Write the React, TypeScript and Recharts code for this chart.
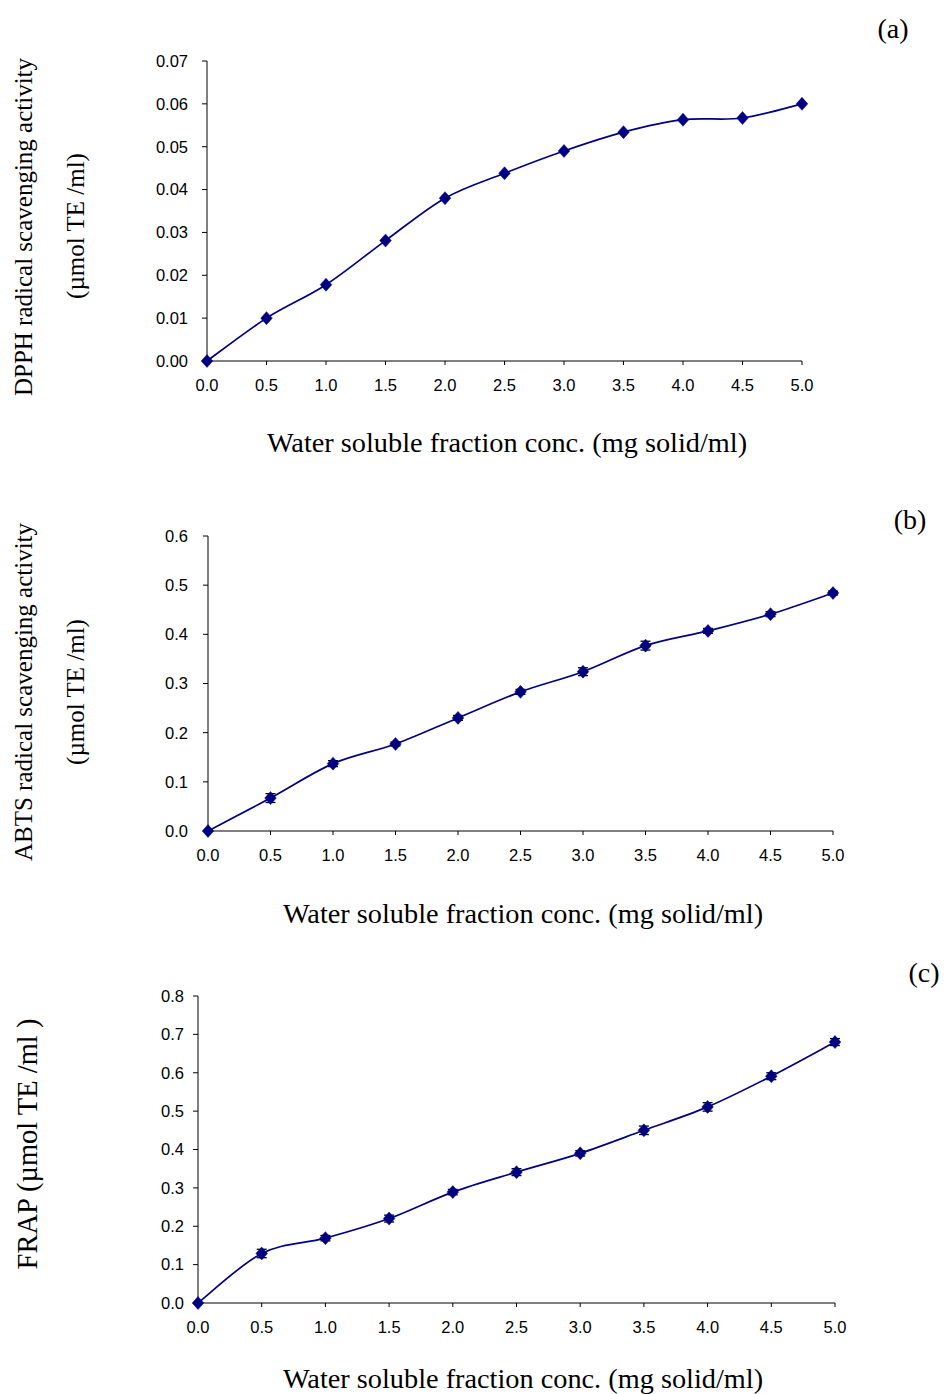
import React from 'react';
import { LineChart, Line, XAxis, YAxis, ErrorBar } from 'recharts';

// Water soluble fraction concentration (mg solid/ml)
const concentrations = [0, 0.5, 1.0, 1.5, 2.0, 2.5, 3.0, 3.5, 4.0, 4.5, 5.0];

// (a) DPPH radical scavenging activity (µmol TE/ml)
const dpphActivity = [0, 0.01, 0.0178, 0.0281, 0.038, 0.0438, 0.049, 0.0534, 0.0563, 0.0567, 0.06];

// (b) ABTS radical scavenging activity (µmol TE/ml) with standard deviations
const abtsActivity = [0, 0.067, 0.137, 0.177, 0.23, 0.283, 0.324, 0.377, 0.407, 0.441, 0.484];
const abtsError = [0, 0.009, 0.006, 0.004, 0.005, 0.005, 0.008, 0.009, 0.005, 0.005, 0.004];

// (c) FRAP (µmol TE/ml) with standard deviations
const frapActivity = [0, 0.129, 0.169, 0.22, 0.289, 0.341, 0.39, 0.45, 0.511, 0.591, 0.68];
const frapError = [0, 0.011, 0.007, 0.009, 0.007, 0.009, 0.007, 0.011, 0.011, 0.009, 0.009];

// Axis ticks
const xTicks = [0, 0.5, 1.0, 1.5, 2.0, 2.5, 3.0, 3.5, 4.0, 4.5, 5.0];
const dpphTicks = [0, 0.01, 0.02, 0.03, 0.04, 0.05, 0.06, 0.07];
const abtsTicks = [0, 0.1, 0.2, 0.3, 0.4, 0.5, 0.6];
const frapTicks = [0, 0.1, 0.2, 0.3, 0.4, 0.5, 0.6, 0.7, 0.8];

const SANS = 'Liberation Sans, Arial, sans-serif';
const SERIF = 'Liberation Serif, Times New Roman, serif';
const NAVY = '#000080';

// Spreadsheet-style smoothed line: cubic Bezier segments through every point
function smoothCurve(context: any) {
  let pts: [number, number][] = [];
  return {
    areaStart() {},
    areaEnd() {},
    lineStart() {
      pts = [];
    },
    point(x: number, y: number) {
      pts.push([+x, +y]);
    },
    lineEnd() {
      const n = pts.length;
      if (!n) return;
      context.moveTo(pts[0][0], pts[0][1]);
      for (let i = 0; i < n - 1; i++) {
        const p0 = pts[Math.max(i - 1, 0)];
        const p1 = pts[i];
        const p2 = pts[i + 1];
        const p3 = pts[Math.min(i + 2, n - 1)];
        context.bezierCurveTo(
          p1[0] + (p2[0] - p0[0]) / 6,
          p1[1] + (p2[1] - p0[1]) / 6,
          p2[0] - (p3[0] - p1[0]) / 6,
          p2[1] - (p3[1] - p1[1]) / 6,
          p2[0],
          p2[1]
        );
      }
    },
  };
}

const renderDiamond = (props: any) => {
  const { cx, cy, index } = props;
  if (cx == null || cy == null) return <g key={index} />;
  return (
    <path
      key={index}
      d={`M${cx},${cy - 6.5}L${cx + 5.8},${cy}L${cx},${cy + 6.5}L${cx - 5.8},${cy}Z`}
      fill={NAVY}
      stroke={NAVY}
      strokeWidth={0.5}
    />
  );
};

type PanelProps = {
  top: number;
  height: number;
  margin: { top: number; right: number; bottom: number; left: number };
  values: number[];
  errors?: number[];
  yTicks: number[];
  yDigits: number;
  yTickMargin: number;
};

function Panel({ top, height, margin, values, errors, yTicks, yDigits, yTickMargin }: PanelProps) {
  const data = concentrations.map((x, i) => ({
    x,
    y: values[i],
    err: errors ? errors[i] : 0,
  }));
  const tickStyle = { fill: '#000', fontSize: 16.5, fontFamily: SANS };
  return (
    <div style={{ position: 'absolute', left: 0, top, width: 946, height }}>
      <LineChart width={946} height={height} data={data} margin={margin}>
        <XAxis
          type="number"
          dataKey="x"
          domain={[0, 5]}
          ticks={xTicks}
          interval={0}
          tickFormatter={(v: number) => v.toFixed(1)}
          height={30}
          tick={tickStyle}
          tickSize={4}
          tickMargin={14}
          axisLine={{ stroke: '#000', strokeWidth: 1 }}
          tickLine={{ stroke: '#000', strokeWidth: 1 }}
        />
        <YAxis
          type="number"
          domain={[yTicks[0], yTicks[yTicks.length - 1]]}
          ticks={yTicks}
          interval={0}
          tickFormatter={(v: number) => v.toFixed(yDigits)}
          width={60}
          tick={tickStyle}
          tickSize={5}
          tickMargin={yTickMargin}
          axisLine={{ stroke: '#000', strokeWidth: 1 }}
          tickLine={{ stroke: '#000', strokeWidth: 1 }}
        />
        <Line
          dataKey="y"
          type={smoothCurve as any}
          stroke={NAVY}
          strokeWidth={1.7}
          dot={renderDiamond}
          activeDot={false}
          isAnimationActive={false}
        >
          {errors ? (
            <ErrorBar dataKey="err" direction="y" width={5} stroke="#000" strokeWidth={1.3} />
          ) : null}
        </Line>
      </LineChart>
    </div>
  );
}

const xTitle = 'Water soluble fraction conc. (mg solid/ml)';

export default function App() {
  return (
    <div style={{ position: 'absolute', left: 0, top: 0, width: 946, height: 1394, background: '#fff' }}>
      <Panel
        top={0}
        height={470}
        margin={{ top: 61, right: 144, bottom: 79, left: 147 }}
        values={dpphActivity}
        yTicks={dpphTicks}
        yDigits={2}
        yTickMargin={14}
      />
      <Panel
        top={470}
        height={470}
        margin={{ top: 66, right: 113, bottom: 79, left: 148 }}
        values={abtsActivity}
        errors={abtsError}
        yTicks={abtsTicks}
        yDigits={1}
        yTickMargin={15}
      />
      <Panel
        top={940}
        height={454}
        margin={{ top: 56, right: 111, bottom: 61, left: 138 }}
        values={frapActivity}
        errors={frapError}
        yTicks={frapTicks}
        yDigits={1}
        yTickMargin={9}
      />
      <svg
        width={946}
        height={1394}
        style={{ position: 'absolute', left: 0, top: 0, pointerEvents: 'none' }}
        fontFamily={SERIF}
        fill="#000"
      >
        {/* panel letters */}
        <text x={893} y={28} fontSize={28} textAnchor="middle" dominantBaseline="central">(a)</text>
        <text x={910} y={519} fontSize={28} textAnchor="middle" dominantBaseline="central">(b)</text>
        <text x={924} y={972} fontSize={28} textAnchor="middle" dominantBaseline="central">(c)</text>

        {/* x-axis titles */}
        <text x={507} y={442} fontSize={28.3} textAnchor="middle" dominantBaseline="central">{xTitle}</text>
        <text x={523} y={913} fontSize={28.3} textAnchor="middle" dominantBaseline="central">{xTitle}</text>
        <text x={523} y={1378} fontSize={28.3} textAnchor="middle" dominantBaseline="central">{xTitle}</text>

        {/* y-axis titles */}
        <text transform="translate(23,227) rotate(-90)" fontSize={25} textAnchor="middle" dominantBaseline="central">
          DPPH radical scavenging activity
        </text>
        <text transform="translate(75,226) rotate(-90)" fontSize={25} textAnchor="middle" dominantBaseline="central">
          (µmol TE /ml)
        </text>
        <text transform="translate(23,692) rotate(-90)" fontSize={25} textAnchor="middle" dominantBaseline="central">
          ABTS radical scavenging activity
        </text>
        <text transform="translate(75,692) rotate(-90)" fontSize={25} textAnchor="middle" dominantBaseline="central">
          (µmol TE /ml)
        </text>
        <text transform="translate(27,1144) rotate(-90)" fontSize={28.5} textAnchor="middle" dominantBaseline="central">
          FRAP (µmol TE /ml )
        </text>
      </svg>
    </div>
  );
}
